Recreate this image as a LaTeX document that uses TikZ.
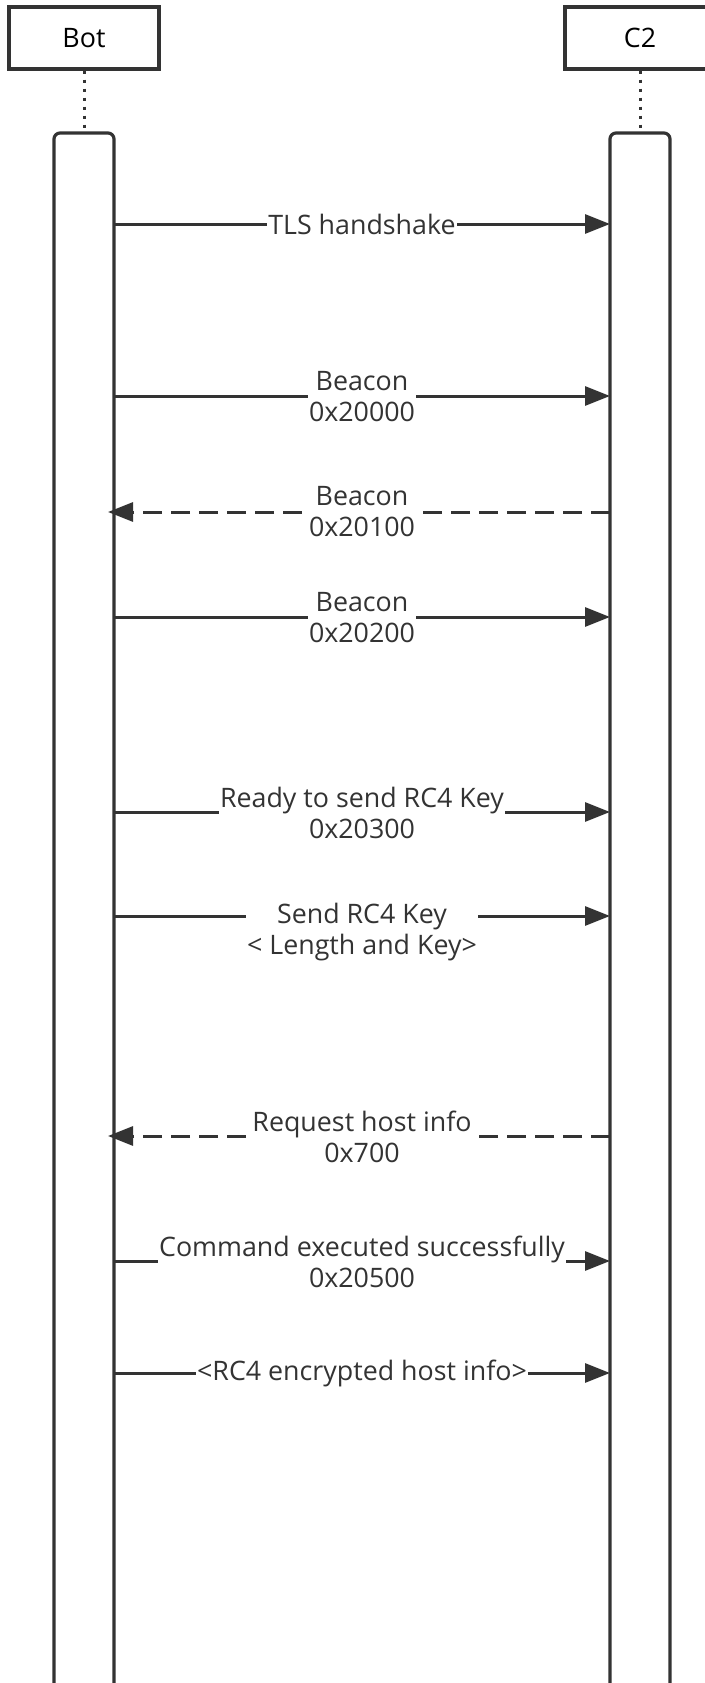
\documentclass[tikz,border=0pt]{standalone}
\usepackage{fontspec}
\setmainfont{Open Sans}
\usetikzlibrary{arrows.meta}
\definecolor{dkgray}{rgb}{0.2,0.2,0.2}
\tikzset{
  actor/.style={draw=dkgray,line width=1.6pt,minimum width=75pt,minimum height=31pt,inner sep=0pt},
  actbar/.style={draw=dkgray,line width=1.6pt,rounded corners=3pt,minimum width=30pt,minimum height=784pt,inner sep=0pt},
  lifeline/.style={draw=dkgray,line width=1.5pt,dash pattern=on 1.5pt off 3pt},
  msg/.style={draw=dkgray,line width=1.5pt},
  reply/.style={msg,dash pattern=on 9.5pt off 4.5pt},
  lbl/.style={fill=white,align=center,inner xsep=0.5pt,inner ysep=0pt,text=dkgray}
}
\begin{document}
\begin{tikzpicture}[line cap=butt,line join=miter,>={Triangle[length=12.5pt,width=9.5pt]},x=0.5pt,y=0.5pt,font=\fontsize{13.4}{15.5}\selectfont]
\useasboundingbox (0,0) rectangle (705,-1683);
\clip (0,0) rectangle (705,-1683);
% participants
\node[actor] (bot) at (84,-38) {Bot};
\node[actor] (c2) at (640,-38) {C2};
\node[actbar] (botbar) at (84,-917) {};
\node[actbar] (c2bar) at (640,-917) {};
\draw[lifeline] (bot) -- (botbar);
\draw[lifeline] (c2) -- (c2bar);
% arrow ends
\coordinate (b1) at (114,-224);  \coordinate (c1) at (610,-224);
\coordinate (b2) at (114,-396);  \coordinate (c2e) at (610,-396);
\coordinate (b3) at (108,-512);  \coordinate (c3) at (610,-512);
\coordinate (b4) at (114,-617);  \coordinate (c4) at (610,-617);
\coordinate (b5) at (114,-812);  \coordinate (c5) at (610,-812);
\coordinate (b6) at (114,-916);  \coordinate (c6) at (610,-916);
\coordinate (b7) at (108,-1136); \coordinate (c7) at (610,-1136);
\coordinate (b8) at (114,-1261); \coordinate (c8) at (610,-1261);
\coordinate (b9) at (114,-1373); \coordinate (c9) at (610,-1373);
% messages
\draw[msg,->] (b1) -- (c1);
\draw[msg,->] (b2) -- (c2e);
\draw[reply,->] (c3) -- (b3);
\draw[msg,->] (b4) -- (c4);
\draw[msg,->] (b5) -- (c5);
\draw[msg,->] (b6) -- (c6);
\draw[reply,->] (c7) -- (b7);
\draw[msg,->] (b8) -- (c8);
\draw[msg,->] (b9) -- (c9);
% labels
\node[lbl] (tls) at (362,-224) {TLS handshake};
\node[lbl] (bcn1) at (362,-397) {Beacon\\0x20000};
\node[lbl] (bcn2) at (362,-512) {Beacon\\0x20100};
\node[lbl] (bcn3) at (362,-618) {Beacon\\0x20200};
\node[lbl] (ready) at (362,-813) {Ready to send RC4 Key\\0x20300};
\node[lbl] (sendkey) at (362,-932) {Send RC4 Key\\< Length and Key>};
\node[lbl] (reqinfo) at (362,-1137) {Request host info\\0x700};
\node[lbl] (cmdok) at (362,-1262) {Command executed successfully\\0x20500};
\node[lbl] (encinfo) at (362,-1373) {<RC4 encrypted host info>};
\end{tikzpicture}
\end{document}
